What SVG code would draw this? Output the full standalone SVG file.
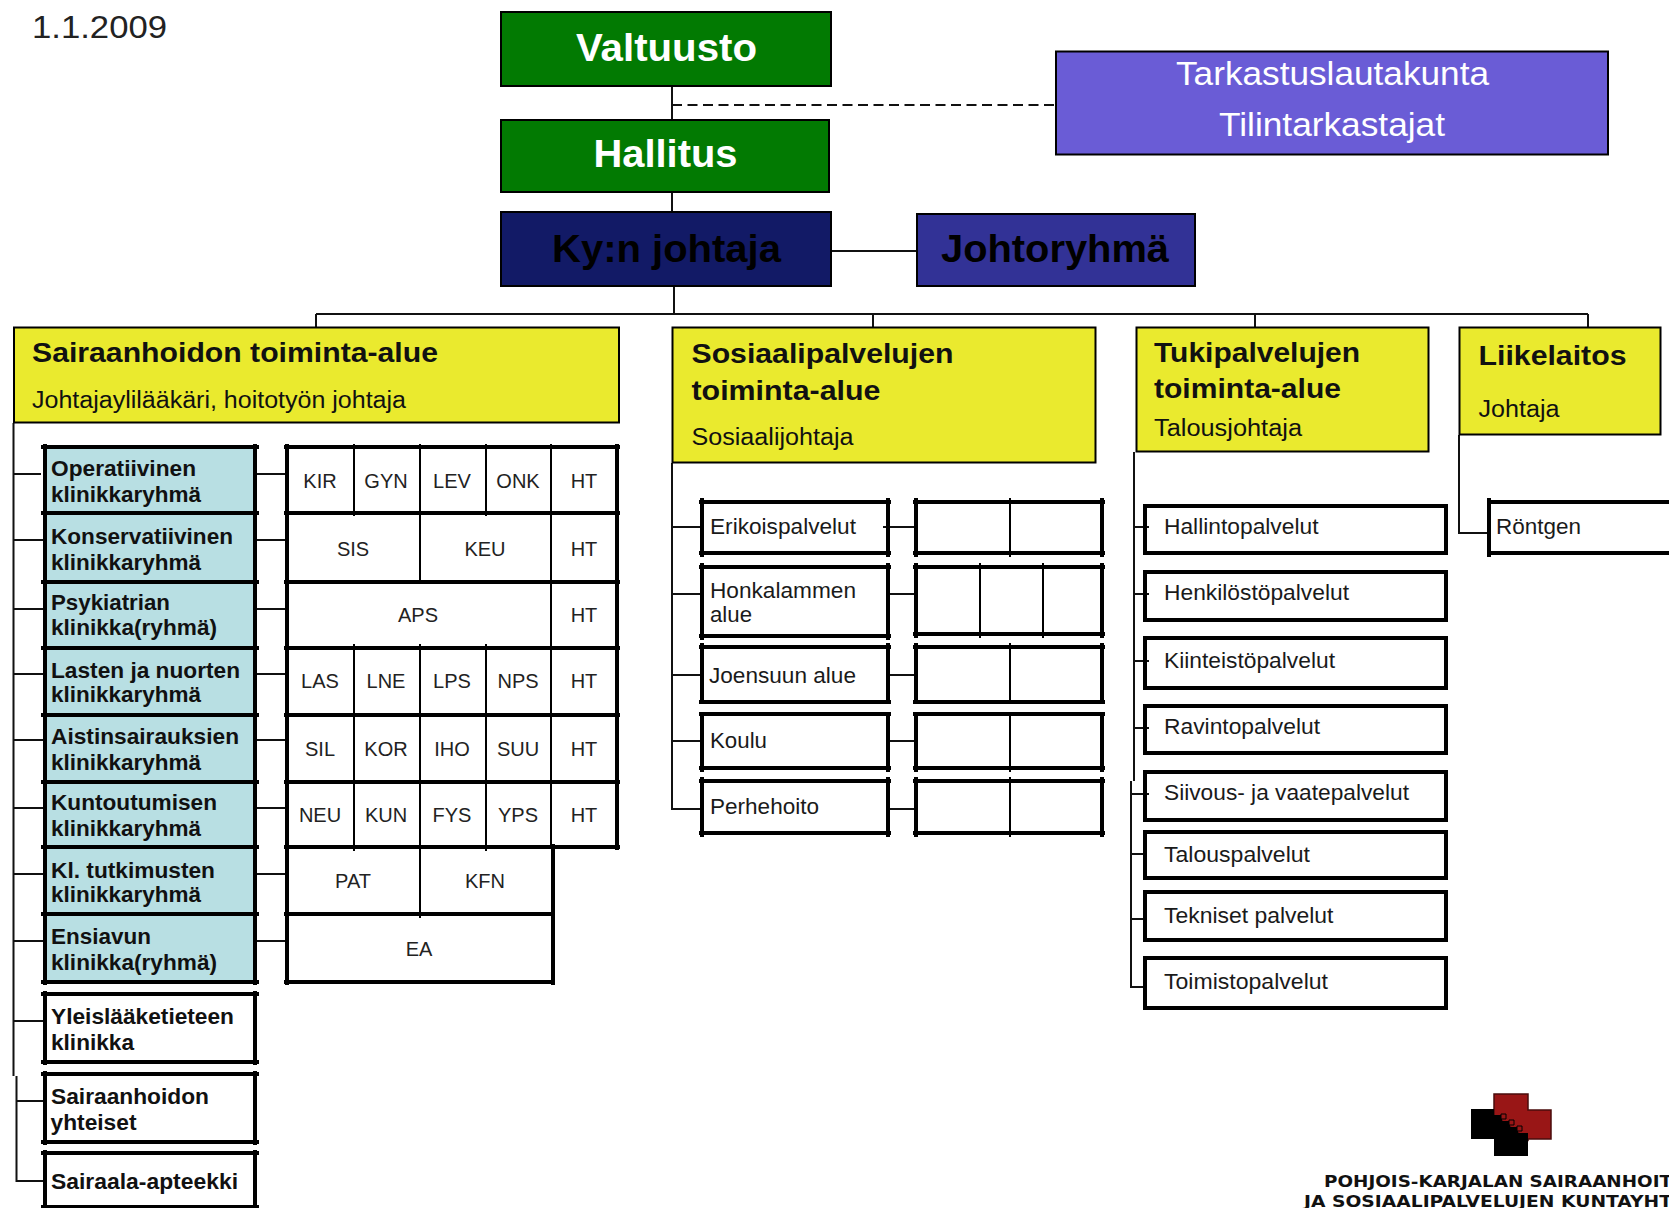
<svg xmlns="http://www.w3.org/2000/svg" width="1669" height="1208" viewBox="0 0 1669 1208">
<style>
text{font-family:"Liberation Sans",Arial,sans-serif;fill:#000}
.top{font-size:39px;font-weight:700}
.w{fill:#fff}
.aud{font-size:34px;fill:#fff}
.hd{font-size:28px;font-weight:700;fill:#111}
.sub{font-size:23px;fill:#111}
.cl{font-size:22px;font-weight:700;fill:#111}
.it{font-size:22px;fill:#1a1a1a}
.c{font-size:20px;fill:#222;text-anchor:middle}
.logo{font-family:"DejaVu Sans",sans-serif;font-size:15px;font-weight:700;fill:#111}
.bx{stroke:#000;stroke-width:2}
.teal{fill:#b8dfe3}
.yel{fill:#eaea2e}
.thick{fill:none;stroke:#000;stroke-width:4}
.thin{fill:none;stroke:#000;stroke-width:2}
.con{fill:none;stroke:#111;stroke-width:2}
.dash{fill:none;stroke:#111;stroke-width:2;stroke-dasharray:10 5.500}
</style>
<rect width="1669" height="1208" fill="#fff"/>
<text x="32" y="38" font-size="32" style="fill:#222" textLength="135" lengthAdjust="spacingAndGlyphs">1.1.2009</text>

<g id="connectors">
<path class="con" d="M672 87V119M672 193V211M674 287V314M316 314H1588M316 314V327M873 314V327M1255 314V327M1588 314V327M831 251H916"/>
<path class="dash" d="M672 105H1055"/>
<path class="con" d="M13.500 423V1076M16.500 1076V1181H45M13.500 474H41M13.500 540H45M13.500 609H45M13.500 674H45M13.500 740H45M13.500 808H45M13.500 874H45M13.500 941H45M13.500 1021H45M16.500 1101H45"/>
<path class="con" d="M255 474H285M255 540H285M255 609H285M255 674H285M255 740H285M255 808H285M255 874H285M255 941H285"/>
<path class="con" d="M672 463V809H702M672 527H702M672 594H702M672 675H702M672 741H702M883 527H916M888 594H916M888 675H916M888 741H916M888 809H916"/>
<path class="con" d="M1134 452V781M1131 781V987H1145M1134 527H1149M1134 594H1149M1134 661H1149M1134 728H1149M1131 794H1149M1131 854H1145M1131 919H1145"/>
<path class="con" d="M1459 435V533H1489"/>
</g>

<g id="valtuusto"><rect class="bx" x="501" y="12" width="330" height="74" fill="#027a02"/><text class="top w" x="576" y="61" textLength="181" lengthAdjust="spacingAndGlyphs">Valtuusto</text></g>
<g id="hallitus"><rect class="bx" x="501" y="120" width="328" height="72" fill="#027a02"/><text class="top w" x="593.500" y="167" textLength="144" lengthAdjust="spacingAndGlyphs">Hallitus</text></g>
<g id="johtaja"><rect class="bx" x="501" y="212" width="330" height="74" fill="#121a66"/><text class="top" x="552" y="262" textLength="229" lengthAdjust="spacingAndGlyphs">Ky:n johtaja</text></g>
<g id="johtoryhma"><rect class="bx" x="917" y="214" width="278" height="72" fill="#323296"/><text class="top" x="941" y="262" textLength="228" lengthAdjust="spacingAndGlyphs">Johtoryhmä</text></g>
<g id="tarkastus"><rect class="bx" x="1056" y="51.500" width="552" height="103" fill="#6a5cd6"/><text class="aud" x="1176" y="85" textLength="313" lengthAdjust="spacingAndGlyphs">Tarkastuslautakunta</text><text class="aud" x="1219" y="136" textLength="226" lengthAdjust="spacingAndGlyphs">Tilintarkastajat</text></g>

<g id="sairaanhoito"><rect class="bx yel" x="14" y="327.500" width="605" height="95"/><text class="hd" x="32" y="362" textLength="406" lengthAdjust="spacingAndGlyphs">Sairaanhoidon toiminta-alue</text><text class="sub" x="32" y="408" textLength="374" lengthAdjust="spacingAndGlyphs">Johtajaylilääkäri, hoitotyön johtaja</text></g>
<g id="sosiaali"><rect class="bx yel" x="672.500" y="327.500" width="423" height="135"/><text class="hd" x="691.500" y="363" textLength="262" lengthAdjust="spacingAndGlyphs">Sosiaalipalvelujen</text><text class="hd" x="691.500" y="400" textLength="189" lengthAdjust="spacingAndGlyphs">toiminta-alue</text><text class="sub" x="691.500" y="445" textLength="162" lengthAdjust="spacingAndGlyphs">Sosiaalijohtaja</text></g>
<g id="tuki"><rect class="bx yel" x="1136.500" y="327.500" width="292" height="124"/><text class="hd" x="1154" y="362" textLength="206" lengthAdjust="spacingAndGlyphs">Tukipalvelujen</text><text class="hd" x="1154" y="398" textLength="187" lengthAdjust="spacingAndGlyphs">toiminta-alue</text><text class="sub" x="1154" y="436" textLength="148" lengthAdjust="spacingAndGlyphs">Talousjohtaja</text></g>
<g id="liikelaitos"><rect class="bx yel" x="1459.500" y="327.500" width="201" height="107"/><text class="hd" x="1478.500" y="365" textLength="148" lengthAdjust="spacingAndGlyphs">Liikelaitos</text><text class="sub" x="1478.500" y="417" textLength="81" lengthAdjust="spacingAndGlyphs">Johtaja</text></g>

<g id="operatiivinen"><rect class="teal" x="45" y="447" width="210" height="66"/><path class="thick" d="M41 447H259M41 513H259M45 444V516M255 444V516"/><text class="cl" x="51" y="476" textLength="145" lengthAdjust="spacingAndGlyphs">Operatiivinen</text><text class="cl" x="51" y="502" textLength="150" lengthAdjust="spacingAndGlyphs">klinikkaryhmä</text></g>
<g id="konservatiivinen"><rect class="teal" x="45" y="513" width="210" height="69"/><path class="thick" d="M41 513H259M41 582H259M45 510V585M255 510V585"/><text class="cl" x="51" y="544" textLength="182" lengthAdjust="spacingAndGlyphs">Konservatiivinen</text><text class="cl" x="51" y="570" textLength="150" lengthAdjust="spacingAndGlyphs">klinikkaryhmä</text></g>
<g id="psykiatria"><rect class="teal" x="45" y="582" width="210" height="66"/><path class="thick" d="M41 582H259M41 648H259M45 579V651M255 579V651"/><text class="cl" x="51" y="610" textLength="119" lengthAdjust="spacingAndGlyphs">Psykiatrian</text><text class="cl" x="51" y="635" textLength="166" lengthAdjust="spacingAndGlyphs">klinikka(ryhmä)</text></g>
<g id="lasten"><rect class="teal" x="45" y="648" width="210" height="67"/><path class="thick" d="M41 648H259M41 715H259M45 645V718M255 645V718"/><text class="cl" x="51" y="678" textLength="189" lengthAdjust="spacingAndGlyphs">Lasten ja nuorten</text><text class="cl" x="51" y="702" textLength="150" lengthAdjust="spacingAndGlyphs">klinikkaryhmä</text></g>
<g id="aistin"><rect class="teal" x="45" y="715" width="210" height="67"/><path class="thick" d="M41 715H259M41 782H259M45 712V785M255 712V785"/><text class="cl" x="51" y="744" textLength="188" lengthAdjust="spacingAndGlyphs">Aistinsairauksien</text><text class="cl" x="51" y="770" textLength="150" lengthAdjust="spacingAndGlyphs">klinikkaryhmä</text></g>
<g id="kuntoutus"><rect class="teal" x="45" y="782" width="210" height="65"/><path class="thick" d="M41 782H259M41 847H259M45 779V850M255 779V850"/><text class="cl" x="51" y="810" textLength="166" lengthAdjust="spacingAndGlyphs">Kuntoutumisen</text><text class="cl" x="51" y="836" textLength="150" lengthAdjust="spacingAndGlyphs">klinikkaryhmä</text></g>
<g id="tutkimus"><rect class="teal" x="45" y="847" width="210" height="67"/><path class="thick" d="M41 847H259M41 914H259M45 844V917M255 844V917"/><text class="cl" x="51" y="878" textLength="164" lengthAdjust="spacingAndGlyphs">Kl. tutkimusten</text><text class="cl" x="51" y="902" textLength="150" lengthAdjust="spacingAndGlyphs">klinikkaryhmä</text></g>
<g id="ensiapu"><rect class="teal" x="45" y="914" width="210" height="68"/><path class="thick" d="M41 914H259M41 982H259M45 911V985M255 911V985"/><text class="cl" x="51" y="944" textLength="100" lengthAdjust="spacingAndGlyphs">Ensiavun</text><text class="cl" x="51" y="970" textLength="166" lengthAdjust="spacingAndGlyphs">klinikka(ryhmä)</text></g>
<g id="yleislaaketiede"><path class="thick" d="M41 994H259M41 1062H259M45 991V1065M255 991V1065"/><text class="cl" x="51" y="1024" textLength="183" lengthAdjust="spacingAndGlyphs">Yleislääketieteen</text><text class="cl" x="51" y="1050" textLength="83" lengthAdjust="spacingAndGlyphs">klinikka</text></g>
<g id="yhteiset"><path class="thick" d="M41 1074H259M41 1142H259M45 1071V1145M255 1071V1145"/><text class="cl" x="51" y="1104" textLength="158" lengthAdjust="spacingAndGlyphs">Sairaanhoidon</text><text class="cl" x="50.500" y="1130" textLength="86" lengthAdjust="spacingAndGlyphs">yhteiset</text></g>
<g id="apteekki"><path class="thick" d="M41 1153H259M41 1207H259M45 1150V1208M255 1150V1208"/><text class="cl" x="51" y="1189" textLength="187" lengthAdjust="spacingAndGlyphs">Sairaala-apteekki</text></g>

<g id="tbl-operatiivinen"><path class="thick" d="M284 447H620M284 513H620M287 444V516M617 444V516"/><path class="thin" d="M354 444V516M420 444V516M486 444V516M551 444V516"/><text class="c" x="320" y="488">KIR</text><text class="c" x="386" y="488">GYN</text><text class="c" x="452" y="488">LEV</text><text class="c" x="518" y="488">ONK</text><text class="c" x="584" y="488">HT</text></g>
<g id="tbl-konservatiivinen"><path class="thick" d="M284 513H620M284 582H620M287 510V585M617 510V585"/><path class="thin" d="M420 513V582M551 513V582"/><text class="c" x="353" y="556">SIS</text><text class="c" x="485" y="556">KEU</text><text class="c" x="584" y="556">HT</text></g>
<g id="tbl-psykiatria"><path class="thick" d="M284 582H620M284 648H620M287 579V651M617 579V651"/><path class="thin" d="M551 582V648"/><text class="c" x="418" y="622">APS</text><text class="c" x="584" y="622">HT</text></g>
<g id="tbl-lasten"><path class="thick" d="M284 648H620M284 715H620M287 645V718M617 645V718"/><path class="thin" d="M354 644V715M420 644V715M486 644V715M551 648V715"/><text class="c" x="320" y="688">LAS</text><text class="c" x="386" y="688">LNE</text><text class="c" x="452" y="688">LPS</text><text class="c" x="518" y="688">NPS</text><text class="c" x="584" y="688">HT</text></g>
<g id="tbl-aistin"><path class="thick" d="M284 715H620M284 782H620M287 712V785M617 712V785"/><path class="thin" d="M354 715V782M420 715V782M486 715V782M551 715V782"/><text class="c" x="320" y="756">SIL</text><text class="c" x="386" y="756">KOR</text><text class="c" x="452" y="756">IHO</text><text class="c" x="518" y="756">SUU</text><text class="c" x="584" y="756">HT</text></g>
<g id="tbl-kuntoutus"><path class="thick" d="M284 782H620M284 847H620M287 779V850M617 779V850"/><path class="thin" d="M354 782V851M420 782V851M486 782V851M551 782V847"/><text class="c" x="320" y="822">NEU</text><text class="c" x="386" y="822">KUN</text><text class="c" x="452" y="822">FYS</text><text class="c" x="518" y="822">YPS</text><text class="c" x="584" y="822">HT</text></g>
<g id="tbl-tutkimus"><path class="thick" d="M284 914H554M287 844V917M553 844V917"/><path class="thin" d="M420 847V918"/><text class="c" x="353" y="888">PAT</text><text class="c" x="485" y="888">KFN</text></g>
<g id="tbl-ensiapu"><path class="thick" d="M284 982H555M287 911V985M553 911V985"/><text class="c" x="419" y="956">EA</text></g>

<g id="erikoispalvelut"><path class="thick" d="M699 502H891M699 553H891M702 498V557M888 498V557"/><text class="it" x="710" y="534" textLength="146" lengthAdjust="spacingAndGlyphs">Erikoispalvelut</text></g>
<g id="honkalampi"><path class="thick" d="M699 567H891M699 636H891M702 563V640M888 563V640"/><text class="it" x="710" y="598" textLength="146" lengthAdjust="spacingAndGlyphs">Honkalammen</text><text class="it" x="710" y="622" textLength="42" lengthAdjust="spacingAndGlyphs">alue</text></g>
<g id="joensuu"><path class="thick" d="M699 647H891M699 702H891M702 643V704M888 643V704"/><text class="it" x="709" y="683" textLength="147" lengthAdjust="spacingAndGlyphs">Joensuun alue</text></g>
<g id="koulu"><path class="thick" d="M699 714H891M699 768H891M702 712V772M888 712V772"/><text class="it" x="710" y="748" textLength="57" lengthAdjust="spacingAndGlyphs">Koulu</text></g>
<g id="perhehoito"><path class="thick" d="M699 781H891M699 833H891M702 777V837M888 777V837"/><text class="it" x="710" y="814" textLength="109" lengthAdjust="spacingAndGlyphs">Perhehoito</text></g>

<g id="tbl-erikois"><path class="thick" d="M913 502H1105M913 553H1105M916 498V557M1102 498V557"/><path class="thin" d="M1010 498V557"/></g>
<g id="tbl-honka"><path class="thick" d="M913 567H1105M913 634H1105M916 563V638M1102 563V638"/><path class="thin" d="M980 563V638M1043 563V638"/></g>
<g id="tbl-joensuu"><path class="thick" d="M913 647H1105M913 702H1105M916 643V704M1102 643V704"/><path class="thin" d="M1010 643V702"/></g>
<g id="tbl-koulu"><path class="thick" d="M913 714H1105M913 768H1105M916 712V772M1102 712V772"/><path class="thin" d="M1010 714V772"/></g>
<g id="tbl-perhe"><path class="thick" d="M913 781H1105M913 833H1105M916 777V837M1102 777V837"/><path class="thin" d="M1010 777V837"/></g>

<g id="hallinto"><rect class="thick" x="1145" y="506" width="301" height="47"/><text class="it" x="1164" y="534" textLength="154.500" lengthAdjust="spacingAndGlyphs">Hallintopalvelut</text></g>
<g id="henkilosto"><rect class="thick" x="1145" y="572" width="301" height="48"/><text class="it" x="1164" y="600" textLength="185" lengthAdjust="spacingAndGlyphs">Henkilöstöpalvelut</text></g>
<g id="kiinteisto"><rect class="thick" x="1145" y="638" width="301" height="50"/><text class="it" x="1164" y="668" textLength="171" lengthAdjust="spacingAndGlyphs">Kiinteistöpalvelut</text></g>
<g id="ravinto"><rect class="thick" x="1145" y="706" width="301" height="47"/><text class="it" x="1164" y="734" textLength="156" lengthAdjust="spacingAndGlyphs">Ravintopalvelut</text></g>
<g id="siivous"><rect class="thick" x="1145" y="772" width="301" height="48"/><text class="it" x="1164" y="800" textLength="245" lengthAdjust="spacingAndGlyphs">Siivous- ja vaatepalvelut</text></g>
<g id="talous"><rect class="thick" x="1145" y="832" width="301" height="46"/><text class="it" x="1164" y="862" textLength="146" lengthAdjust="spacingAndGlyphs">Talouspalvelut</text></g>
<g id="tekniset"><rect class="thick" x="1145" y="892" width="301" height="48"/><text class="it" x="1164" y="923" textLength="169.500" lengthAdjust="spacingAndGlyphs">Tekniset palvelut</text></g>
<g id="toimisto"><rect class="thick" x="1145" y="958" width="301" height="50"/><text class="it" x="1164" y="989" textLength="164" lengthAdjust="spacingAndGlyphs">Toimistopalvelut</text></g>

<g id="rontgen"><path class="thick" d="M1489 502H1669M1489 553H1669M1489 498V557"/><text class="it" x="1496" y="534" textLength="85" lengthAdjust="spacingAndGlyphs">Röntgen</text></g>

<g id="logo">
<path d="M1494 1094H1528V1110H1551V1139H1528V1140L1494 1115Z" fill="#991616" stroke="#4a0c0c" stroke-width="1.500"/>
<path d="M1471 1109H1494V1115H1502V1121H1510V1127H1518V1133H1528V1156H1494V1139H1471Z" fill="#000"/>
<path d="M1501 1114h5v5h-5zM1509 1120h5v5h-5zM1517 1126h5v5h-5z" fill="#991616" stroke="#000"/>
<text class="logo" x="1324" y="1187" textLength="348" lengthAdjust="spacingAndGlyphs">POHJOIS-KARJALAN SAIRAANHOIT</text>
<text class="logo" x="1304" y="1207" textLength="368" lengthAdjust="spacingAndGlyphs">JA SOSIAALIPALVELUJEN KUNTAYHT</text>
</g>
</svg>
